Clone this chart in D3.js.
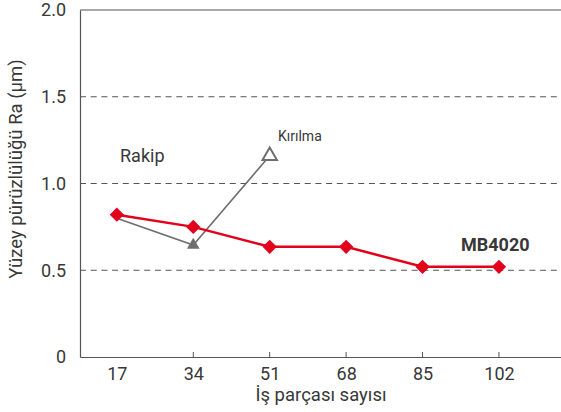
<!DOCTYPE html>
<html><head><meta charset="utf-8">
<script src="https://cdn.jsdelivr.net/npm/d3@7/dist/d3.min.js"></script>
<style>body{margin:0;background:#fff}svg{display:block;font-family:Roboto,"DejaVu Sans",sans-serif}</style>
</head><body><svg id="c" width="561" height="412"></svg>
<script>
const parts = [17, 34, 51, 68, 85, 102];
const mb4020 = [0.82, 0.75, 0.635, 0.635, 0.52, 0.52];
const rakipX = [17, 34, 51];
const rakip = [0.80, 0.645, 1.16];
const yTicks = [0, 0.5, 1.0, 1.5, 2.0];
const yTickLabels = ["0", "0.5", "1.0", "1.5", "2.0"];

const svg = d3.select("#c");
const L = 80, R = 561, T = 10, B = 357;
const x = d3.scaleLinear().domain([8.8, 115.8]).range([L, R]);
const y = d3.scaleLinear().domain([0, 2]).range([B, T]);
const ink = "#383838";

// gridlines
svg.append("g").selectAll("line").data([0.5, 1.0, 1.5]).join("line")
  .attr("x1", L).attr("x2", R).attr("y1", d => y(d)).attr("y2", d => y(d))
  .attr("stroke", "#555").attr("stroke-width", 1.2).attr("stroke-dasharray", "6,4.7");
// top border
svg.append("line").attr("x1", L).attr("x2", R).attr("y1", y(2)).attr("y2", y(2))
  .attr("stroke", "#555").attr("stroke-width", 1.2);

// y axis
const ya = d3.axisLeft(y).tickValues(yTicks).tickSize(0).tickPadding(14)
  .tickFormat((d, i) => yTickLabels[i]);
const yg = svg.append("g").attr("transform", `translate(${L},0)`).call(ya);
yg.select(".domain").attr("stroke", "#555").attr("stroke-width", 1.2);
yg.selectAll("text").attr("font-size", 18).attr("fill", ink).attr("font-family", "Roboto");

// x axis
const xa = d3.axisBottom(x).tickValues(parts).tickSize(0).tickPadding(0).tickFormat(d3.format("d"));
const xg = svg.append("g").attr("transform", `translate(0,${B})`).call(xa);
xg.select(".domain").attr("stroke", "#555").attr("stroke-width", 1.2);
xg.selectAll("text").attr("font-size", 18).attr("fill", ink).attr("font-family", "Roboto")
  .attr("y", 23).attr("dy", 0);
svg.append("g").selectAll("line").data(parts.slice(1)).join("line")
  .attr("x1", d => x(d)).attr("x2", d => x(d)).attr("y1", B).attr("y2", B - 5)
  .attr("stroke", "#555").attr("stroke-width", 1);

// axis titles
svg.append("text").attr("transform", `translate(22,169) rotate(-90)`)
  .attr("text-anchor", "middle").attr("font-size", 18.5).attr("fill", ink).text("Yüzey pürüzlülüğü Ra (μm)");
svg.append("text").attr("x", 321).attr("y", 401).attr("text-anchor", "middle")
  .attr("font-size", 18.5).attr("fill", ink).text("İş parçası sayısı");

// Rakip line
const rk = rakipX.map((d, i) => [d, rakip[i]]);
svg.append("path").datum(rk).attr("fill", "none").attr("stroke", "#6e6e6e").attr("stroke-width", 1.6)
  .attr("d", d3.line().x(d => x(d[0])).y(d => y(d[1])));
const tri = d3.symbol().type(d3.symbolTriangle);
svg.append("path").attr("d", tri.size(70)()).attr("transform", `translate(${x(rk[1][0])},${y(rk[1][1])})`)
  .attr("fill", "#6e6e6e");
svg.append("path").attr("d", tri.size(90)()).attr("transform", `translate(${x(rk[2][0])},${y(rk[2][1])})`)
  .attr("fill", "#fff").attr("stroke", "#6e6e6e").attr("stroke-width", 2);

// MB4020 line
const mb = parts.map((d, i) => [d, mb4020[i]]);
svg.append("path").datum(mb).attr("fill", "none").attr("stroke", "#e2001a").attr("stroke-width", 2.5)
  .attr("d", d3.line().x(d => x(d[0])).y(d => y(d[1])));
svg.append("g").selectAll("path").data(mb).join("path")
  .attr("d", d3.symbol().type(d3.symbolDiamond2).size(130)())
  .attr("transform", d => `translate(${x(d[0])},${y(d[1])})`).attr("fill", "#e2001a");

// labels
svg.append("text").attr("x", 120).attr("y", 162).attr("font-size", 18).attr("fill", ink).text("Rakip");
svg.append("text").attr("x", 278).attr("y", 141).attr("font-size", 14).attr("fill", ink).text("Kırılma");
svg.append("text").attr("x", 461).attr("y", 251).attr("font-size", 18).attr("font-weight", "bold").attr("fill", ink).text("MB4020");
</script></body></html>
